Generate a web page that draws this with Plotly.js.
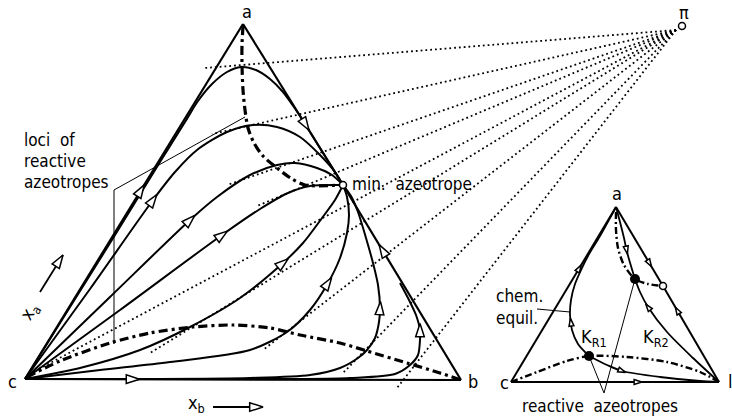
<!DOCTYPE html>
<html>
<head>
<meta charset="utf-8">
<script src="https://cdn.plot.ly/plotly-3.0.1.min.js"></script>
<style>
  html, body { margin: 0; padding: 0; background: #fff; }
  #chart { width: 732px; height: 420px; }
</style>
</head>
<body>
<div id="chart"></div>
<script>
// diagram coordinates: x to the right, y downward, one unit per pixel of the figure

// ---- big diagram: components c, b, a with a minimum azeotrope on edge a-b
const minAzeo = [343, 185];
const edgeCA = [[25, 379], [243, 24]];
const edgeAZ = [[243, 24], [343, 185]];
const edgeBZ = [[461, 380], [343, 185]];
const edgeCB = [[25, 379], [461, 380]];

// residue curves, ordered in the direction of the arrows
const R1 = [[25,379],[70,307],[115,235],[160,162],[185,122],[198,101],[212,84],[227,72],[241,67],[256,70],[270,79],[283,92],[296,110],[305,124],[343,185]];
const R2 = [[25,379],[90,289],[153,200],[175,172],[197,150],[227,132],[253,125],[277,127],[300,137],[320,155],[335,172],[343,185]];
const R3 = [[25,379],[110,297],[190,220],[217,197],[250,175],[277,165],[295,163],[317,168],[332,175],[343,185]];
const R4 = [[25,379],[120,310],[222,235],[260,209],[288,193],[310,186],[343,185]];
const R5 = [[25,379],[80,368],[140,350],[190,327],[240,298],[283,263],[303,243],[322,218],[335,200],[343,185]];
const R6 = [[25,379],[100,370],[170,362],[250,350],[287,332],[310,310],[328,283],[340,258],[347,233],[349,215],[347,197],[343,185]];
const R7 = [[25,379],[150,379],[250,378],[310,375],[340,368],[358,358],[367,350],[375,338],[379,322],[380,308],[378,285],[373,263],[366,238],[358,212],[351,196],[343,185]];
const R8 = [[25,379],[200,379],[300,379],[350,378],[395,374],[410,365],[418,355],[420,340],[420,330],[416,315],[409,300],[400,283]];

// loci of reactive azeotropes
const lociUpper = [[243,26],[242,45],[242,65],[243,90],[245,110],[248,128],[254,143],[263,156],[277,168],[292,179],[305,185],[343,185]];
const lociLower = [[27,377],[60,361],[110,343],[150,333],[193,327],[233,325],[270,328],[300,335],[340,343],[367,351],[407,363],[440,373],[461,380]];
const lociLeader = [[245,117],[114,190],[114,344]];

// pole pi and the dotted lines drawn from it
const pole = [676, 30];
const rayEndX = [205, 212, 227, 257, 37, 150, 263, 343, 397];
const rayEndY = [68, 134, 185, 206, 370, 353, 350, 373, 388];

// ---- small diagram: components c, l, a
const smallAzeo = [663, 286];
const reactAzeo = [[589, 356], [635, 279]];
const sEdgeCA = [[511, 382], [616, 207]];
const sEdgeAZ = [[616, 207], [663, 286]];
const sEdgeLZ = [[719, 382], [663, 286]];
const sEdgeCL = [[511, 382], [719, 382]];
const kr1Up = [[589,356],[578,344],[572,330],[570,315],[571,300],[575,284],[581,270],[588,256],[600,236],[616,207]];
const kr1Right = [[589,356],[607,365],[622,371],[660,377],[700,381],[719,382]];
const kr2Down = [[616,207],[620,222],[624,238],[627,252],[631,266],[635,279]];
const kr2Up = [[719,382],[693,358],[667,332],[648,307],[640,292],[635,279]];
const sLociUpper = [[616,212],[616,230],[618,248],[624,265],[635,279],[648,284],[663,286]];
const sLociLower = [[511,382],[537,372],[567,361],[589,356],[627,357],[667,362],[700,372],[719,382]];
const chemLeader = [[537,309],[570,312]];
const reactLeader = [[589,356],[604,393],[635,279]];

// arrows on the curves: which curve, and roughly where
const curves = {edgeCA, edgeAZ, edgeBZ, edgeCB, R2, R3, R4, R5, R6, R7, R8,
                sEdgeCA, sEdgeAZ, sEdgeLZ, sEdgeCL, kr1Up, kr1Right, kr2Down, kr2Up};
const arrowCurve = ['edgeCA','R2','R3','R4','R5','R6','R7','R8','edgeBZ','edgeAZ','edgeCB',
                    'sEdgeCA','kr2Down','sEdgeAZ','sEdgeLZ','kr2Up','kr1Up','kr1Right','sEdgeCL'];
const arrowX = [140, 153, 190, 222, 283, 328, 380, 420, 383, 305, 133, 577, 627, 650, 678, 648, 572, 622, 638];
const arrowY = [190, 200, 220, 235, 263, 283, 308, 330, 250, 125, 379, 267, 250, 263, 310, 307, 322, 371, 382];

// axis direction indicators
const xaArrow = [[40, 292], [63, 255]];
const xbArrow = [[213, 407], [263, 407]];

const FONT = 'DejaVu Sans Condensed, DejaVu Sans, sans-serif';

function lineTrace(pts, width, dash, shape) {
    return {
        x: pts.map(p => p[0]),
        y: pts.map(p => p[1]),
        type: 'scatter',
        mode: 'lines',
        line: { color: '#000', width: width, dash: dash || 'solid', shape: shape || 'spline', smoothing: 0.8 },
        hoverinfo: 'skip',
    };
}

// nearest segment of a polyline gives the position and the heading of an arrow
function arrowOn(pts, x, y) {
    let best = null;
    for (let i = 0; i < pts.length - 1; i++) {
        const dx = pts[i + 1][0] - pts[i][0], dy = pts[i + 1][1] - pts[i][1];
        let t = ((x - pts[i][0]) * dx + (y - pts[i][1]) * dy) / (dx * dx + dy * dy);
        t = Math.max(0, Math.min(1, t));
        const px = pts[i][0] + t * dx, py = pts[i][1] + t * dy;
        const d = (px - x) ** 2 + (py - y) ** 2;
        if (!best || d < best.d) best = { d, px, py, dx, dy };
    }
    const len = Math.hypot(best.dx, best.dy);
    return { x: best.px, y: best.py, ux: best.dx / len, uy: best.dy / len,
             angle: Math.atan2(best.dx, -best.dy) * 180 / Math.PI };
}

function arrowTrace(names, xs, ys, size) {
    const tr = { x: [], y: [], angle: [] };
    names.forEach((name, i) => {
        const a = arrowOn(curves[name], xs[i], ys[i]);
        tr.x.push(a.x + a.ux * size * 0.47);
        tr.y.push(a.y + a.uy * size * 0.47);
        tr.angle.push(a.angle);
    });
    return {
        x: tr.x, y: tr.y,
        type: 'scatter', mode: 'markers',
        marker: { symbol: 'arrow', size: size, angle: tr.angle, color: '#fff', line: { color: '#000', width: 1.5 } },
        hoverinfo: 'skip',
    };
}

const rayX = [], rayY = [];
rayEndX.forEach((x, i) => { rayX.push(pole[0], x, null); rayY.push(pole[1], rayEndY[i], null); });

const data = [
    { x: rayX, y: rayY, type: 'scatter', mode: 'lines', line: { color: '#000', width: 1.8, dash: '1.8px,3px' }, hoverinfo: 'skip' },
    lineTrace(edgeCA, 2.2), lineTrace(edgeAZ, 2.2), lineTrace(edgeBZ, 2.2), lineTrace(edgeCB, 2.2),
    lineTrace(R1, 2), lineTrace(R2, 2), lineTrace(R3, 2), lineTrace(R4, 2),
    lineTrace(R5, 2), lineTrace(R6, 2), lineTrace(R7, 2), lineTrace(R8, 2),
    lineTrace(lociUpper, 3.2, '9px,4px,3px,4px'), lineTrace(lociLower, 3.2, '9px,4px,3px,4px'),
    lineTrace(lociLeader, 1, 'solid', 'linear'),
    lineTrace(sEdgeCA, 2), lineTrace(sEdgeAZ, 2), lineTrace(sEdgeLZ, 2), lineTrace(sEdgeCL, 2),
    lineTrace(kr1Up, 1.8), lineTrace(kr1Right, 1.8), lineTrace(kr2Down, 1.8), lineTrace(kr2Up, 1.8),
    lineTrace(sLociUpper, 2.4, '7px,3px,2px,3px'), lineTrace(sLociLower, 2.4, '7px,3px,2px,3px'),
    lineTrace(chemLeader, 1, 'solid', 'linear'), lineTrace(reactLeader, 1, 'solid', 'linear'),
    lineTrace(xaArrow, 1.8, 'solid', 'linear'), lineTrace(xbArrow, 1.8, 'solid', 'linear'),
    arrowTrace(arrowCurve.slice(0, 11), arrowX.slice(0, 11), arrowY.slice(0, 11), 14),
    arrowTrace(arrowCurve.slice(11), arrowX.slice(11), arrowY.slice(11), 8),
    {
        x: [xaArrow[1][0], xbArrow[1][0]], y: [xaArrow[1][1], xbArrow[1][1]],
        type: 'scatter', mode: 'markers', hoverinfo: 'skip',
        marker: { symbol: 'arrow', size: 14, angle: [33, 90], color: '#fff', line: { color: '#000', width: 1.5 } },
    },
    {
        x: [minAzeo[0], smallAzeo[0], pole[0] + 6], y: [minAzeo[1], smallAzeo[1], pole[1] - 4],
        type: 'scatter', mode: 'markers', hoverinfo: 'skip',
        marker: { symbol: 'circle', size: 7, color: '#fff', line: { color: '#000', width: 1.5 } },
    },
    {
        x: reactAzeo.map(p => p[0]), y: reactAzeo.map(p => p[1]),
        type: 'scatter', mode: 'markers', hoverinfo: 'skip',
        marker: { symbol: 'circle', size: 10, color: '#000' },
    },
];

function label(text, x, y, xanchor, size, extra) {
    return Object.assign({
        text: text, x: x, y: y, xref: 'x', yref: 'y', showarrow: false,
        xanchor: xanchor || 'center', yanchor: 'middle',
        font: { family: FONT, size: size || 17, color: '#000' },
    }, extra || {});
}

const layout = {
    width: 732,
    height: 420,
    margin: { l: 0, r: 0, t: 0, b: 0 },
    showlegend: false,
    plot_bgcolor: '#fff',
    paper_bgcolor: '#fff',
    xaxis: { range: [0, 732], visible: false, fixedrange: true },
    yaxis: { range: [420, 0], visible: false, fixedrange: true },
    annotations: [
        label('a', 247, 11, 'center', 18),
        label('c', 12, 381, 'center', 18),
        label('b', 473, 381, 'center', 18),
        label('loci  of', 22, 140, 'left'),
        label('reactive', 22, 161, 'left'),
        label('azeotropes', 22, 182, 'left'),
        label('min.  azeotrope', 350, 184, 'left'),
        label('π', 684, 12, 'center', 18),
        label('x<sub>a</sub>', 30, 312, 'center', 18, { textangle: -58 }),
        label('x<sub>b</sub>', 196, 404, 'center', 18),
        label('a', 617, 193, 'center', 18),
        label('c', 504, 382, 'center', 18),
        label('l', 730, 381, 'center', 18),
        label('chem.', 494, 296, 'left'),
        label('equil.', 494, 318, 'left'),
        label('K<sub>R1</sub>', 594, 338, 'center', 18),
        label('K<sub>R2</sub>', 656, 338, 'center', 18),
        label('reactive  azeotropes', 600, 406),
    ],
};

Plotly.newPlot('chart', data, layout, { displayModeBar: false, staticPlot: true });
</script>
</body>
</html>
